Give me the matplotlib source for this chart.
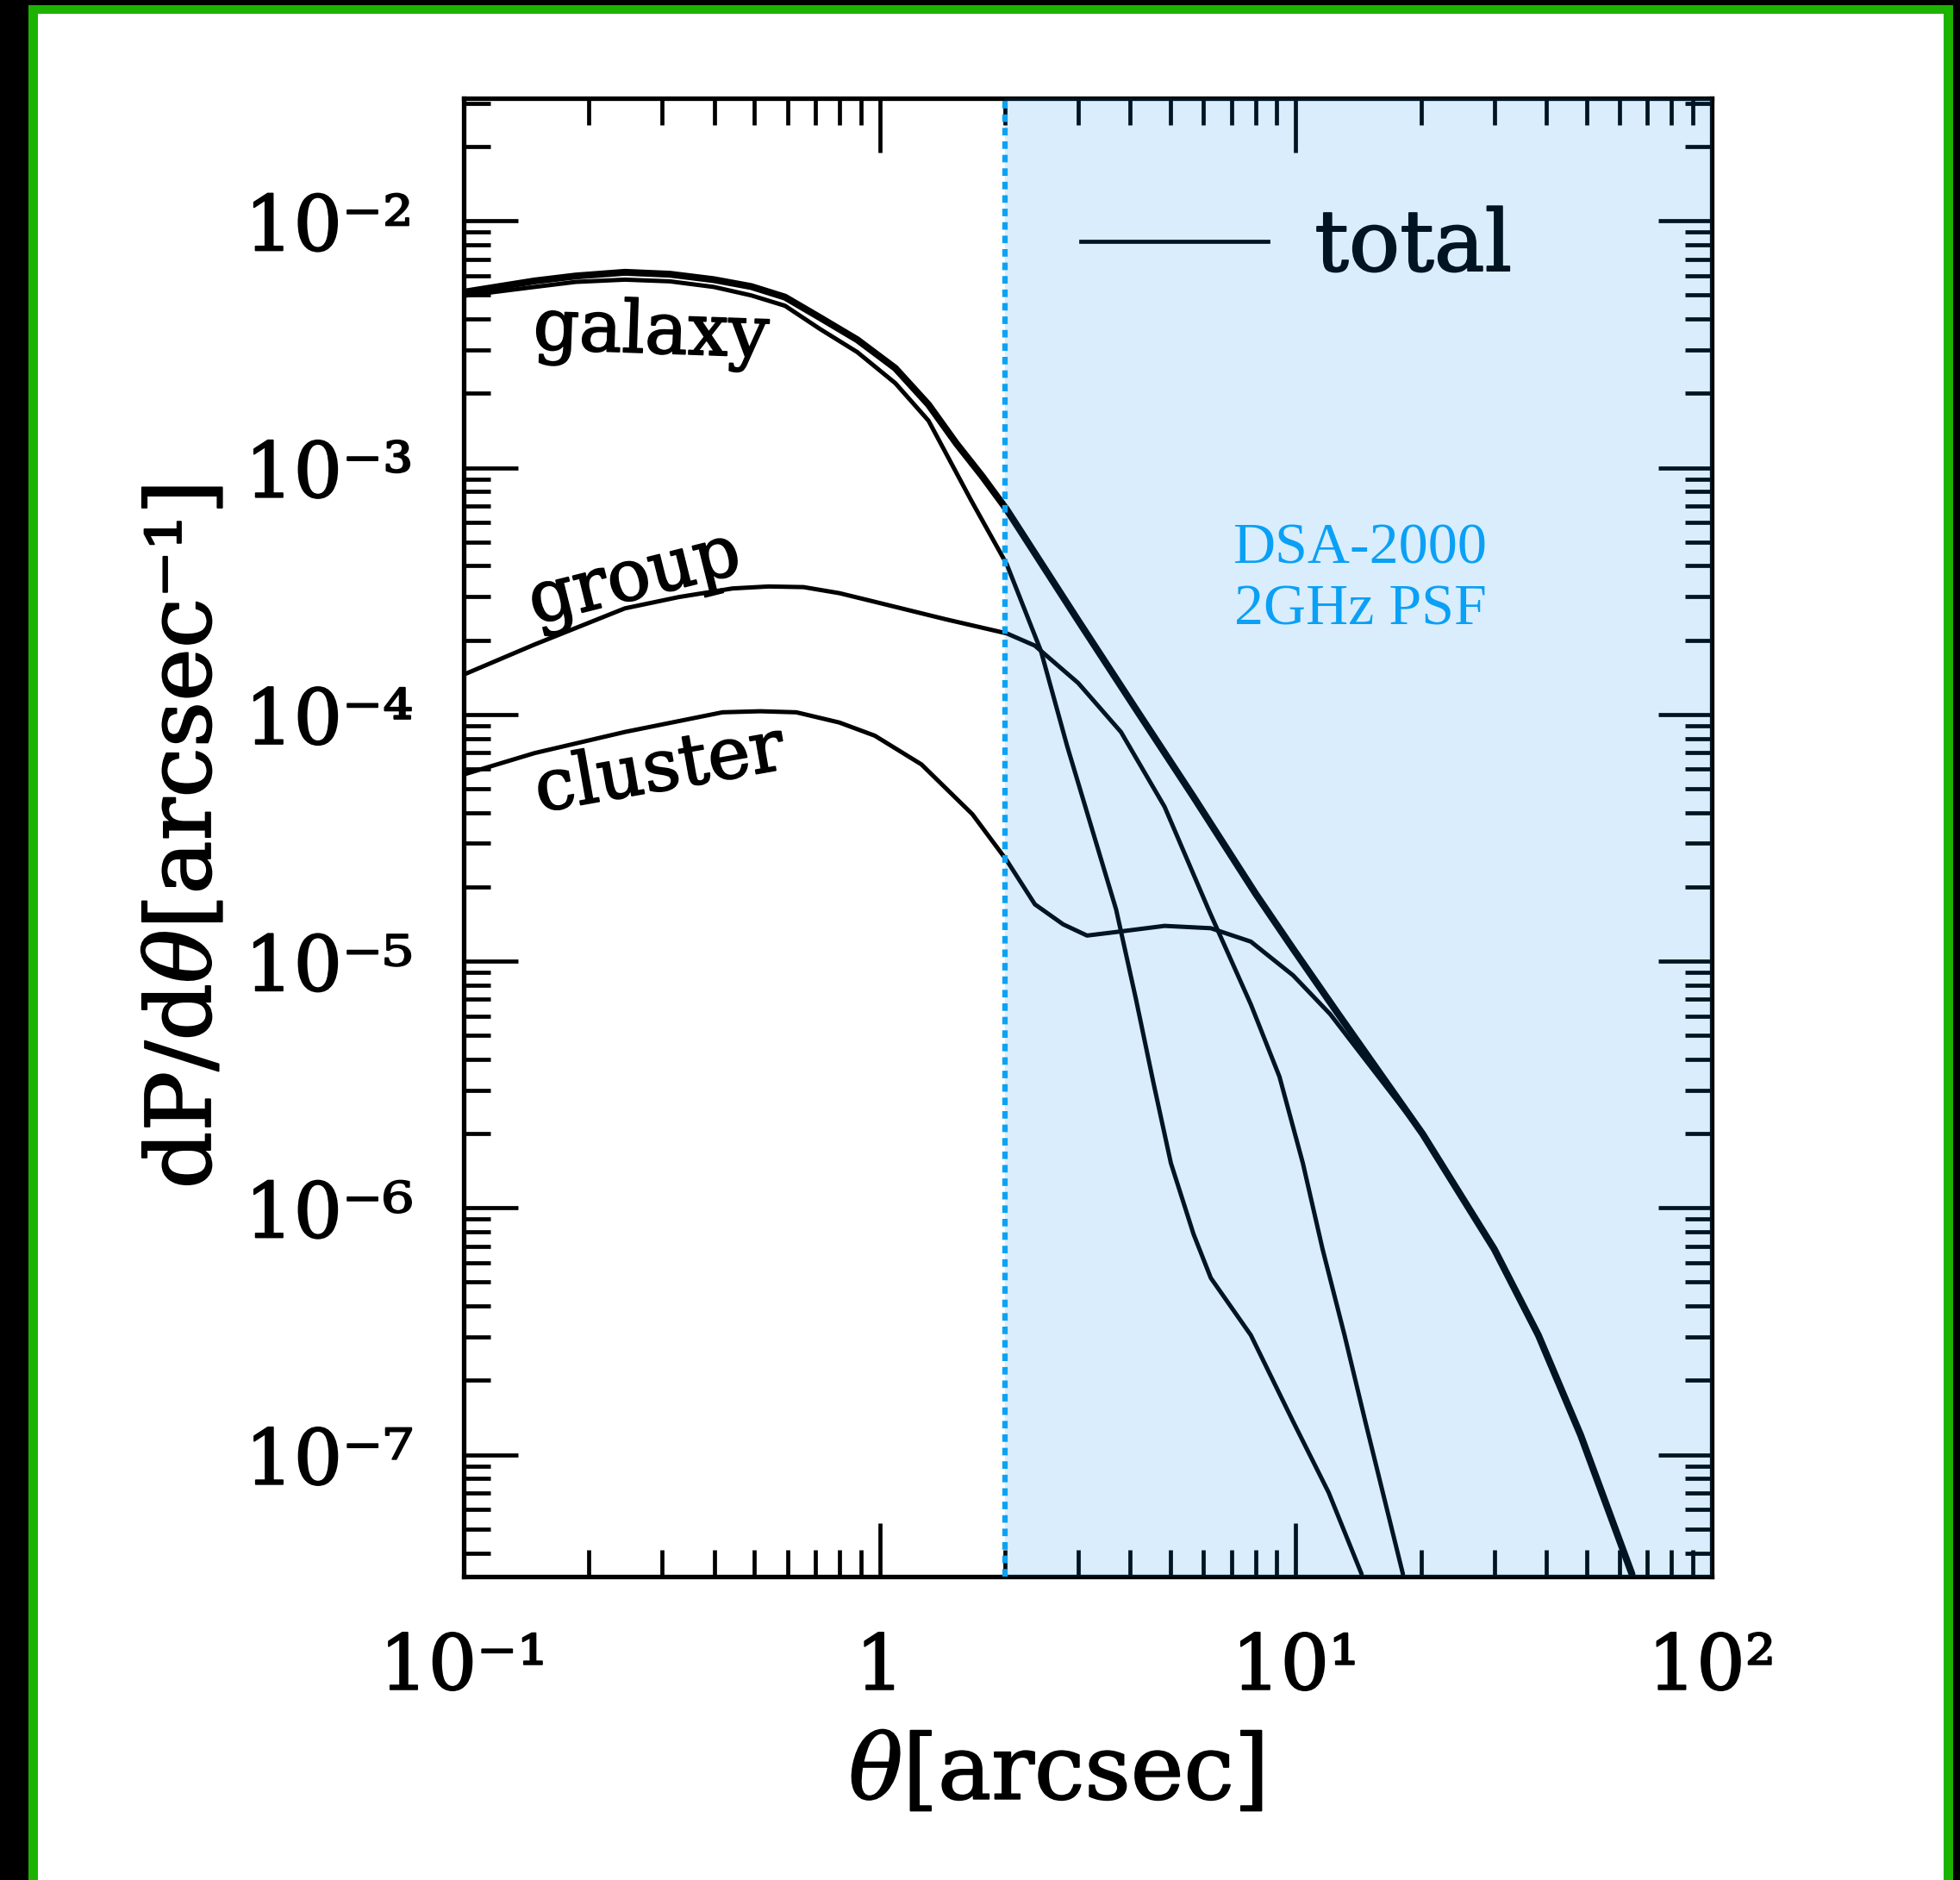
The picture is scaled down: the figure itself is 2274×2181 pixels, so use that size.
import matplotlib as mpl
import matplotlib.pyplot as plt
import matplotlib.patheffects as pe
from matplotlib.patches import Rectangle
from matplotlib.lines import Line2D
from matplotlib.ticker import LogLocator, NullFormatter

mpl.rcParams["font.family"] = "DejaVu Serif"
mpl.rcParams["mathtext.fontset"] = "dejavuserif"

# image-separation distributions, theta in arcsec, dP/dtheta in 1/arcsec
theta_total = [0.100, 0.148, 0.186, 0.244, 0.313, 0.399, 0.491, 0.592, 0.718, 0.883,
               1.09, 1.31, 1.53, 1.76, 2.02, 3.00, 4.13, 5.68, 8.02, 9.86,
               12.6, 20.2, 30.0, 38.3, 48.4, 64.3]
p_total = [5.14e-3, 5.71e-3, 5.98e-3, 6.19e-3, 6.08e-3, 5.78e-3, 5.42e-3, 4.91e-3, 4.06e-3, 3.30e-3,
           2.53e-3, 1.80e-3, 1.25e-3, 9.27e-4, 6.76e-4, 2.40e-4, 1.05e-4, 4.63e-5, 1.87e-5, 1.12e-5,
           6.17e-6, 1.99e-6, 6.81e-7, 3.05e-7, 1.20e-7, 3.28e-8]

theta_galaxy = [0.100, 0.148, 0.186, 0.244, 0.313, 0.399, 0.491, 0.592, 0.718, 0.883,
                1.09, 1.31, 1.66, 2.02, 2.44, 2.82, 3.70, 4.13, 4.55, 5.01,
                5.68, 6.25, 7.80, 9.86, 12.0, 14.4]
p_galaxy = [4.97e-3, 5.40e-3, 5.66e-3, 5.78e-3, 5.69e-3, 5.40e-3, 4.99e-3, 4.53e-3, 3.65e-3, 2.94e-3,
            2.20e-3, 1.55e-3, 7.35e-4, 4.06e-4, 1.81e-4, 7.47e-5, 1.62e-5, 7.01e-6, 3.21e-6, 1.52e-6,
            7.83e-7, 5.20e-7, 3.05e-7, 1.36e-7, 7.02e-8, 3.28e-8]

theta_group = [0.100, 0.148, 0.244, 0.329, 0.443, 0.541, 0.656, 0.800, 0.973, 1.44,
               2.02, 2.36, 3.00, 3.80, 4.84, 6.21, 7.80, 9.14, 10.4, 11.6,
               13.1, 14.7, 18.1]
p_group = [1.45e-4, 1.92e-4, 2.69e-4, 2.99e-4, 3.24e-4, 3.30e-4, 3.28e-4, 3.10e-4, 2.86e-4, 2.43e-4,
           2.13e-4, 1.90e-4, 1.34e-4, 8.49e-5, 4.22e-5, 1.58e-5, 6.68e-6, 3.40e-6, 1.52e-6, 6.81e-7,
           3.05e-7, 1.36e-7, 3.28e-8]

theta_cluster = [0.100, 0.148, 0.244, 0.419, 0.516, 0.630, 0.800, 0.973, 1.26, 1.67,
                 2.02, 2.36, 2.76, 3.15, 3.80, 4.84, 6.25, 7.80, 9.86, 12.1,
                 20.2, 30.0, 38.3, 48.4, 64.3]
p_cluster = [5.71e-5, 6.97e-5, 8.49e-5, 1.02e-4, 1.03e-4, 1.02e-4, 9.27e-5, 8.20e-5, 6.27e-5, 3.94e-5,
             2.56e-5, 1.70e-5, 1.41e-5, 1.27e-5, 1.32e-5, 1.39e-5, 1.36e-5, 1.20e-5, 8.75e-6, 6.10e-6,
             1.99e-6, 6.81e-7, 3.05e-7, 1.20e-7, 3.28e-8]

psf_theta = 2.0  # arcsec

x_ticks = [0.1, 1, 10, 100]
x_ticklabels = ["10⁻¹", "1", "10¹", "10²"]
y_ticks = [1e-2, 1e-3, 1e-4, 1e-5, 1e-6, 1e-7]
y_ticklabels = ["10⁻²", "10⁻³", "10⁻⁴", "10⁻⁵", "10⁻⁶", "10⁻⁷"]

W, H = 2274, 2181
fig = plt.figure(figsize=(W / 100, H / 100), dpi=100, facecolor="black")

# green frame round the white panel
fig.add_artist(Rectangle((33 / W, -0.05), (2266 - 33) / W, 1.05 - 6 / H,
                         transform=fig.transFigure, facecolor="#1cb300",
                         edgecolor="none", zorder=-2))
fig.add_artist(Rectangle((44 / W, -0.05), (2255 - 44) / W, 1.05 - 16 / H,
                         transform=fig.transFigure, facecolor="white",
                         edgecolor="none", zorder=-1))

ax = fig.add_axes([538 / W, (H - 1829) / H, (1986 - 538) / W, (1829 - 114) / H])
ax.set_facecolor("white")
ax.set_xscale("log")
ax.set_yscale("log")

line_kw = dict(color="black", solid_joinstyle="round", solid_capstyle="round")
ax.plot(theta_cluster, p_cluster, lw=3.6, zorder=2, **line_kw)
ax.plot(theta_group, p_group, lw=3.6, zorder=2, **line_kw)
ax.plot(theta_galaxy, p_galaxy, lw=3.6, zorder=2, **line_kw)
ax.plot(theta_total, p_total, lw=5.8, zorder=3, **line_kw)

ax.set_xlim(0.1, 100)
ax.set_ylim(10 ** -7.494, 10 ** -1.503)

# PSF region: translucent blue wash over everything beyond 2 arcsec
ax.axvspan(psf_theta, 100, color="#008ceb", alpha=0.149, lw=0, zorder=5)
ax.axvline(psf_theta, color="#0ba2f4", lw=4.5, dashes=(1.4, 1.1), zorder=6)

ax.text(0.7182, 0.6857, "DSA-2000", transform=ax.transAxes, ha="center", va="baseline",
        fontsize=49, family="Liberation Serif", color="#0aa0f5", zorder=7)
ax.text(0.7182, 0.6443, "2GHz PSF", transform=ax.transAxes, ha="center", va="baseline",
        fontsize=49, family="Liberation Serif", color="#0aa0f5", zorder=7)

# slightly heavier strokes for the black lettering
heavy = [pe.withStroke(linewidth=1.3, foreground="black")]

# curve labels
for name, x, y, rot in [("galaxy", 0.282, 3.50e-3, -2),
                        ("group", 0.258, 3.52e-4, 14),
                        ("cluster", 0.296, 5.92e-5, 10)]:
    ax.text(x, y, name, fontsize=60, rotation=rot, rotation_mode="anchor",
            ha="center", va="center", zorder=4, path_effects=heavy)

leg = ax.legend([Line2D([], [], color="black", lw=3.4)], ["total"],
                loc="center left", bbox_to_anchor=(0.4945, 0.899), frameon=False,
                fontsize=71, handlelength=2.2, handletextpad=0.55,
                borderpad=0, borderaxespad=0)
leg.set_zorder(4)
for t in leg.get_texts():
    t.set_path_effects(heavy)

ax.set_xticks(x_ticks, x_ticklabels)
ax.set_yticks(y_ticks, y_ticklabels)
ax.xaxis.set_minor_locator(LogLocator(base=10, subs=range(2, 10), numticks=20))
ax.yaxis.set_minor_locator(LogLocator(base=10, subs=range(2, 10), numticks=20))
ax.xaxis.set_minor_formatter(NullFormatter())
ax.yaxis.set_minor_formatter(NullFormatter())

ax.tick_params(which="both", direction="in", top=True, right=True, width=3.4)
ax.tick_params(which="major", length=45)
ax.tick_params(which="minor", length=22)
ax.tick_params(axis="x", which="major", pad=45, labelsize=64)
ax.tick_params(axis="y", which="major", pad=42, labelsize=64)
for lbl in ax.get_xticklabels() + ax.get_yticklabels():
    lbl.set_path_effects(heavy)
for s in ax.spines.values():
    s.set_linewidth(3.8)

ax.set_xlabel(r"$\theta$[arcsec]", fontsize=75, va="center", path_effects=heavy)
ax.xaxis.set_label_coords(0.4745, -0.134)
ax.set_ylabel(r"dP/d$\theta$[arcsec⁻¹]", fontsize=75, va="center", path_effects=heavy)
ax.yaxis.set_label_coords(-0.2224, 0.5)

fig.savefig("out.png", dpi=100, facecolor=fig.get_facecolor())
